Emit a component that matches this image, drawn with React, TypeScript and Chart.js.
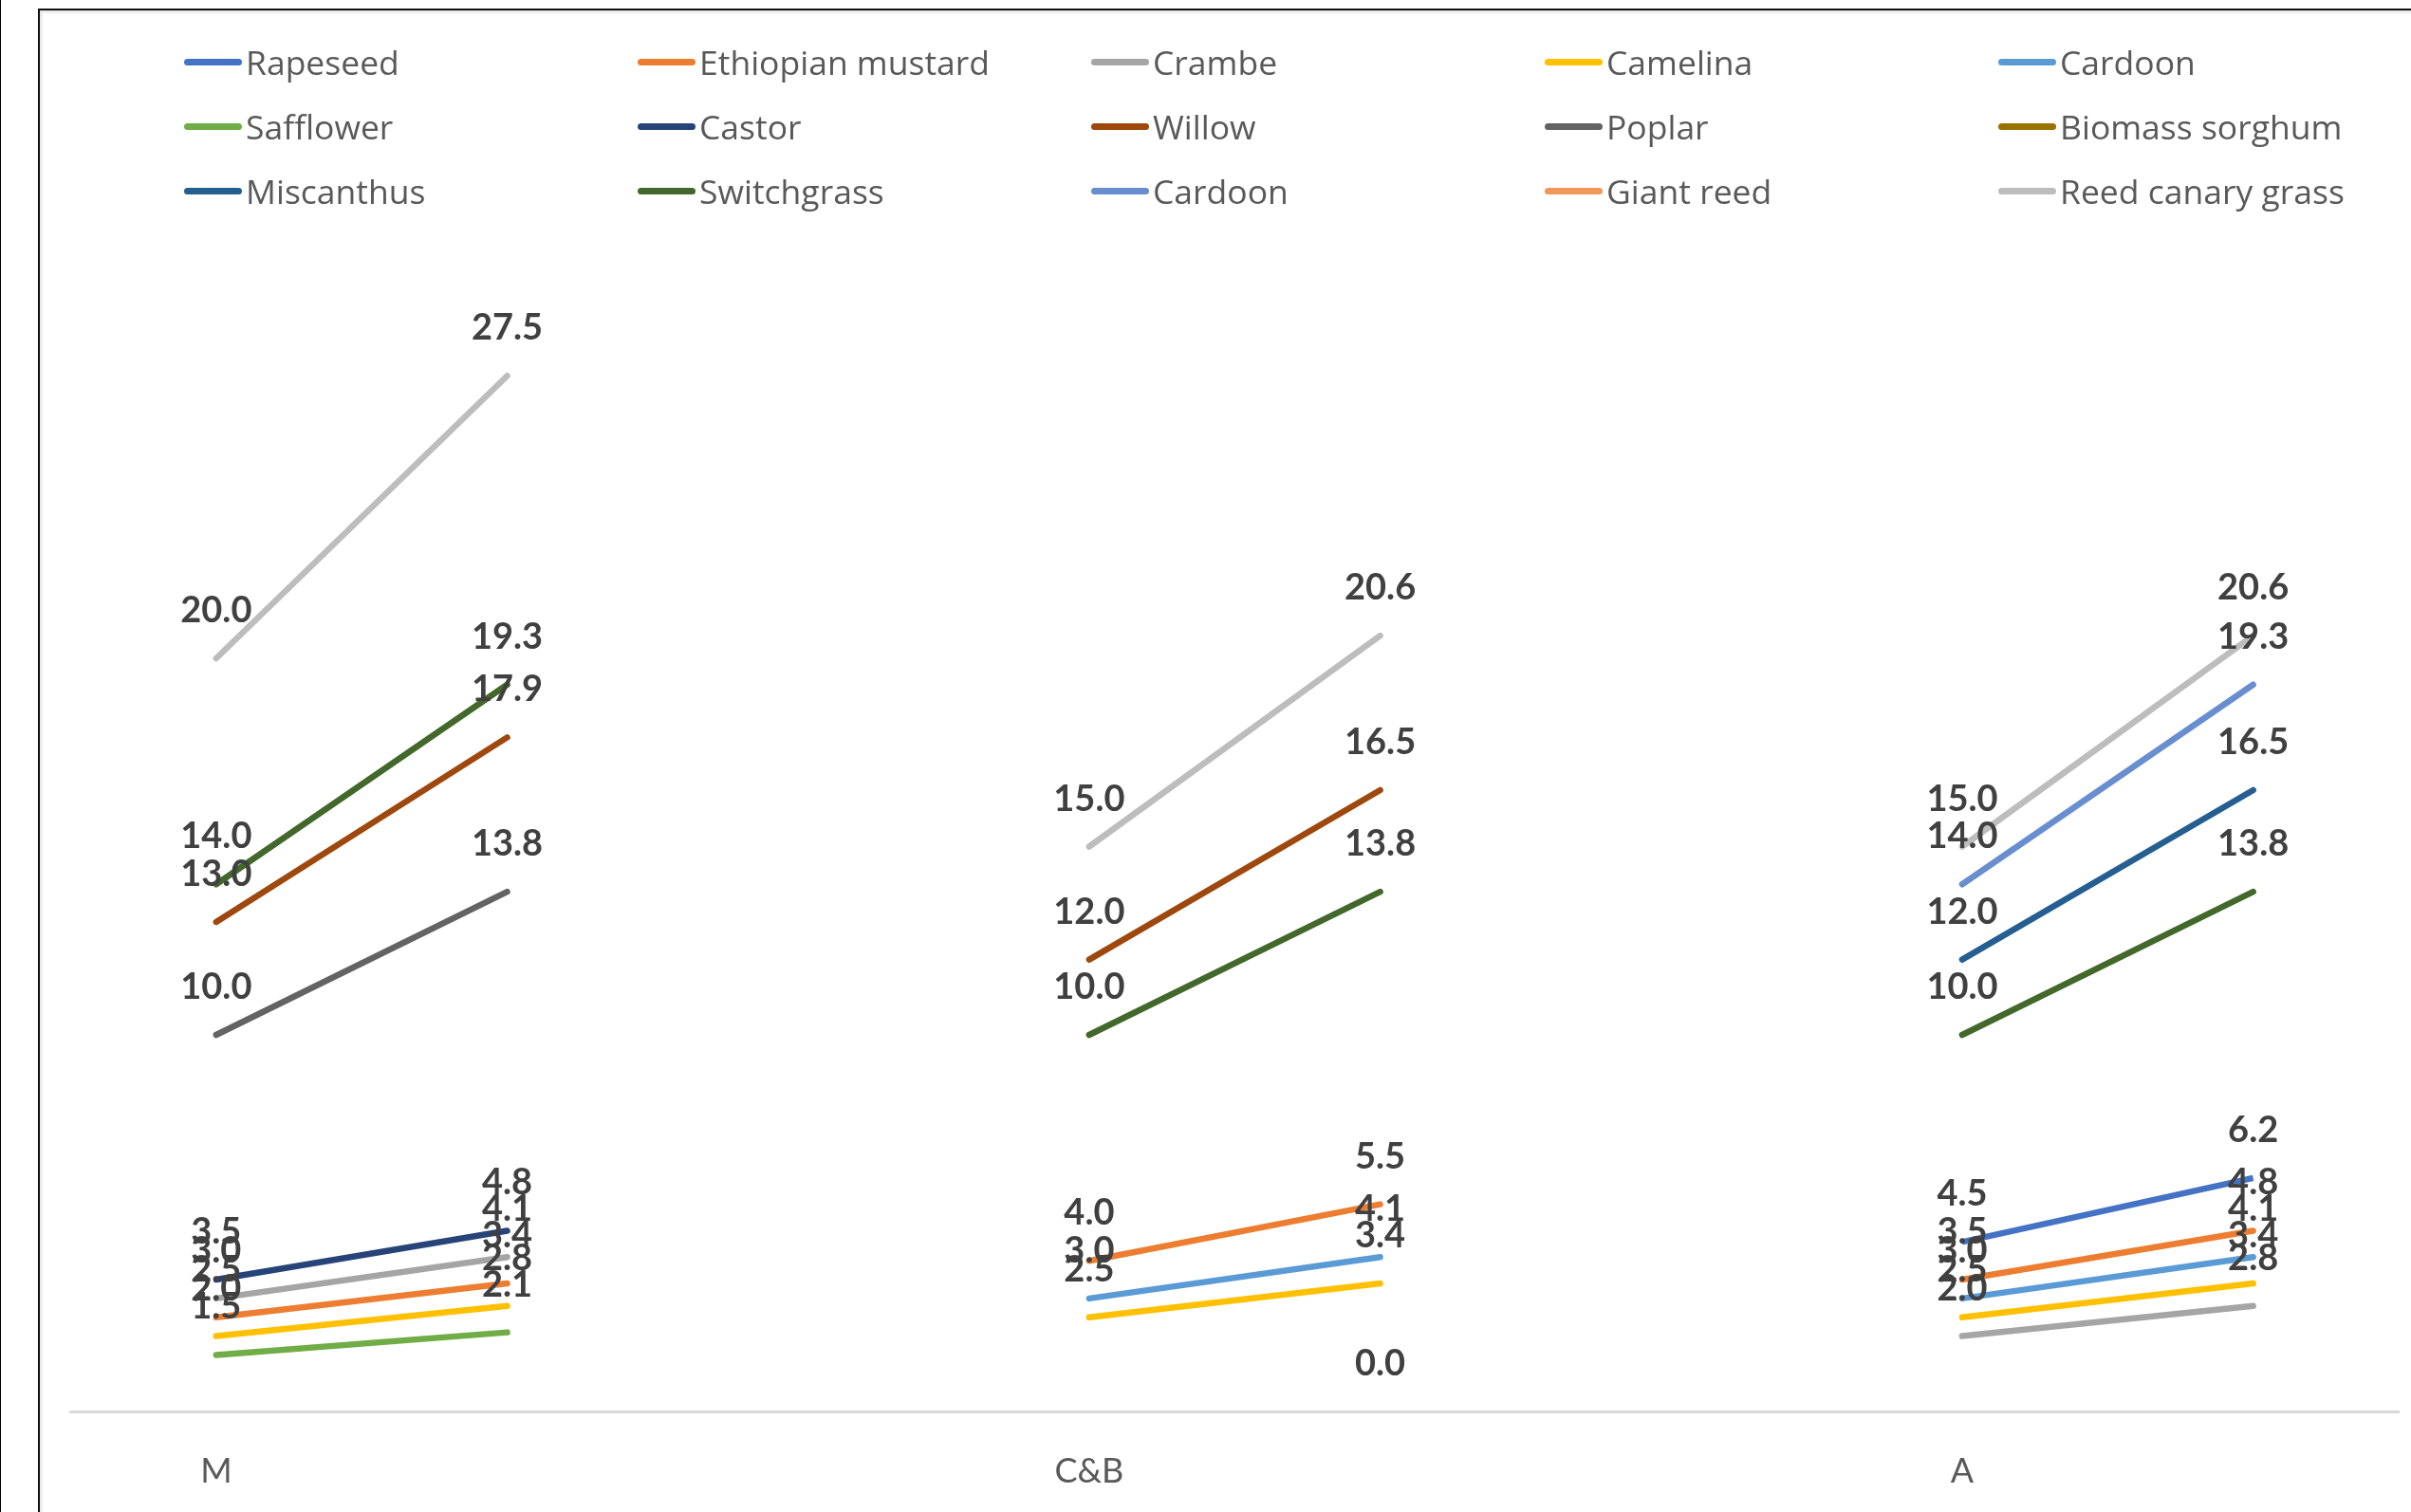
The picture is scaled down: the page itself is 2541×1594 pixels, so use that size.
import React, { useEffect, useRef } from "react";
import { Chart, registerables } from "chart.js";

Chart.register(...registerables);

// Categories: each region has two points (start / end) separated by blanks
const CATEGORIES = ["M", "", "", "C&B", "", "", "A", ""];

const SERIES_NAMES = [
  "Rapeseed",
  "Ethiopian mustard",
  "Crambe",
  "Camelina",
  "Cardoon",
  "Safflower",
  "Castor",
  "Willow",
  "Poplar",
  "Biomass sorghum",
  "Miscanthus",
  "Switchgrass",
  "Cardoon",
  "Giant reed",
  "Reed canary grass",
];

const SERIES_COLORS = [
  "#4472C4",
  "#ED7D31",
  "#A5A5A5",
  "#FFC000",
  "#5B9BD5",
  "#70AD47",
  "#264478",
  "#9E480E",
  "#636363",
  "#997300",
  "#255E91",
  "#43682B",
  "#698ED0",
  "#F1975A",
  "#BDBDBD",
];

type V = number | null;
const RAPESEED: V[] = [null, null, null, null, 0.0, null, 4.5, 6.2];
const ETHIOPIAN_MUSTARD: V[] = [2.5, 3.4, null, 4.0, 5.5, null, 3.5, 4.8];
const CRAMBE: V[] = [3.0, 4.1, null, null, null, null, 2.0, 2.8];
const CAMELINA: V[] = [2.0, 2.8, null, 2.5, 3.4, null, 2.5, 3.4];
const CARDOON_OIL: V[] = [null, null, null, 3.0, 4.1, null, 3.0, 4.1];
const SAFFLOWER: V[] = [1.5, 2.1, null, null, null, null, null, null];
const CASTOR: V[] = [3.5, 4.8, null, null, null, null, null, null];
const WILLOW: V[] = [13.0, 17.9, null, 12.0, 16.5, null, null, null];
const POPLAR: V[] = [10.0, 13.8, null, null, null, null, null, null];
const BIOMASS_SORGHUM: V[] = [null, null, null, null, null, null, null, null];
const MISCANTHUS: V[] = [null, null, null, null, null, null, 12.0, 16.5];
const SWITCHGRASS: V[] = [14.0, 19.3, null, 10.0, 13.8, null, 10.0, 13.8];
const CARDOON_LIGNO: V[] = [null, null, null, null, null, null, 14.0, 19.3];
const GIANT_REED: V[] = [null, null, null, null, null, null, null, null];
const REED_CANARY_GRASS: V[] = [20.0, 27.5, null, 15.0, 20.6, null, 15.0, 20.6];

const SERIES_VALUES: V[][] = [
  RAPESEED,
  ETHIOPIAN_MUSTARD,
  CRAMBE,
  CAMELINA,
  CARDOON_OIL,
  SAFFLOWER,
  CASTOR,
  WILLOW,
  POPLAR,
  BIOMASS_SORGHUM,
  MISCANTHUS,
  SWITCHGRASS,
  CARDOON_LIGNO,
  GIANT_REED,
  REED_CANARY_GRASS,
];

const Y_MIN = 0;
const Y_MAX = 30;

const W = 2541;
const H = 1594;

const dataLabelPlugin = {
  id: "valueLabels",
  afterDatasetsDraw(chart: any) {
    const ctx = chart.ctx;
    ctx.save();
    ctx.font = "bold 38px Lato, 'Open Sans', sans-serif";
    ctx.fillStyle = "#404040";
    ctx.textAlign = "center";
    ctx.textBaseline = "alphabetic";
    chart.data.datasets.forEach((ds: any, i: number) => {
      const meta = chart.getDatasetMeta(i);
      meta.data.forEach((pt: any, j: number) => {
        const v = ds.data[j];
        if (v === null || v === undefined) return;
        ctx.fillText(Number(v).toFixed(1), pt.x, pt.y - 38);
      });
    });
    ctx.restore();
  },
};

function LegendHtml() {
  const colX0 = 194;
  const colStep = 478;
  const rowY = [65, 133, 201];
  return (
    <>
      {SERIES_NAMES.map((name, i) => {
        const col = i % 5;
        const row = Math.floor(i / 5);
        const left = colX0 + col * colStep;
        const cy = rowY[row];
        return (
          <div
            key={i}
            style={{
              position: "absolute",
              left,
              top: cy - 30,
              height: 60,
              display: "flex",
              alignItems: "center",
              whiteSpace: "nowrap",
            }}
          >
            <span
              style={{
                display: "inline-block",
                width: 61,
                height: 7,
                borderRadius: 3.5,
                background: SERIES_COLORS[i],
                marginRight: 4,
              }}
            />
            <span
              style={{
                fontFamily: "'Open Sans', Lato, sans-serif",
                fontSize: 35.5,
                fontWeight: 500,
                color: "#595959",
              }}
            >
              {name}
            </span>
          </div>
        );
      })}
    </>
  );
}

export default function App() {
  const canvasRef = useRef<HTMLCanvasElement | null>(null);

  useEffect(() => {
    const canvas = canvasRef.current;
    if (!canvas) return;
    const n = SERIES_NAMES.length;
    const chart = new Chart(canvas, {
      type: "line",
      data: {
        labels: CATEGORIES,
        datasets: SERIES_NAMES.map((name, i) => ({
          label: name,
          data: SERIES_VALUES[i],
          borderColor: SERIES_COLORS[i],
          backgroundColor: SERIES_COLORS[i],
          borderWidth: 6.5,
          borderCapStyle: (i === 0 ? "butt" : "round") as any,
          pointRadius: 0,
          pointHoverRadius: 0,
          tension: 0,
          spanGaps: false,
          fill: false,
          clip: false as any,
          order: n - i,
        })),
      },
      options: {
        responsive: false,
        devicePixelRatio: 1,
        animation: false,
        events: [],
        layout: { padding: { left: 74.5, right: 13, top: 297, bottom: 0 } },
        plugins: {
          legend: { display: false },
          tooltip: { enabled: false },
          title: { display: false },
        },
        scales: {
          x: {
            type: "category",
            offset: true,
            grid: { display: false, drawTicks: false },
            border: { display: true, color: "#D9D9D9", width: 3 },
            ticks: {
              autoSkip: false,
              maxRotation: 0,
              minRotation: 0,
              padding: 42,
              color: "#595959",
              font: { family: "Lato, 'Open Sans', sans-serif", size: 36 },
            },
            afterFit: (scale: any) => {
              scale.height = 106;
            },
          },
          y: {
            display: false,
            min: Y_MIN,
            max: Y_MAX,
          },
        },
      },
      plugins: [dataLabelPlugin],
    });
    return () => chart.destroy();
  }, []);

  return (
    <div
      style={{
        position: "fixed",
        left: 0,
        top: 0,
        width: W,
        height: H,
        background: "#ffffff",
        overflow: "hidden",
      }}
    >
      <div
        style={{
          position: "absolute",
          left: 0,
          top: 0,
          width: 1,
          height: H,
          background: "#000",
        }}
      />
      <div
        style={{
          position: "absolute",
          left: 40,
          top: 9,
          width: W + 100,
          height: H + 100,
          borderLeft: "2px solid #111",
          borderTop: "2px solid #111",
          boxShadow: "inset 2px 2px 3px rgba(0,0,0,0.12)",
          background: "#fff",
        }}
      />
      <canvas
        ref={canvasRef}
        width={W}
        height={H}
        style={{ position: "absolute", left: 0, top: 0, width: W, height: H }}
      />
      <LegendHtml />
    </div>
  );
}
